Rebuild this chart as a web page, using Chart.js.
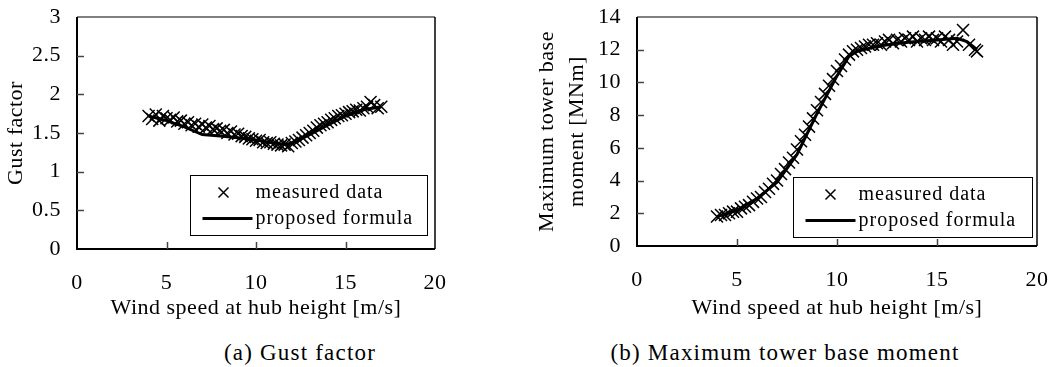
<!DOCTYPE html>
<html>
<head>
<meta charset="utf-8">
<script src="https://cdn.jsdelivr.net/npm/chart.js@4.4.1/dist/chart.umd.min.js"></script>
<style>
    body {
        margin: 0;
        background: #fff;
        width: 1052px;
        height: 367px;
        position: relative;
        overflow: hidden;
        font-family: "Liberation Serif", "Times New Roman", serif;
    }
    canvas { position: absolute; top: 0; }
    #gustChart { left: 0; }
    #momentChart { left: 520px; }
    .caption {
        position: absolute;
        top: 340px;
        font-size: 23px;
        line-height: 26px;
        letter-spacing: 1.2px;
        color: #000;
        white-space: nowrap;
        transform: translateX(-50%);
    }
</style>
</head>
<body>
<canvas id="gustChart" width="520" height="330"></canvas>
<canvas id="momentChart" width="532" height="330"></canvas>
<div class="caption" style="left:300px">(a) Gust factor</div>
<div class="caption" style="left:785px">(b) Maximum tower base moment</div>
<script>
// tick labels
var speedTicks = [0, 5, 10, 15, 20];
var gustTicks = [0, 0.5, 1, 1.5, 2, 2.5, 3];
var momentTicks = [0, 2, 4, 6, 8, 10, 12, 14];

// (a) gust factor, measured
var gustSpeed = [4.0, 4.2, 4.4, 4.6, 4.8, 5.0, 5.2, 5.4, 5.6, 5.8, 6.0, 6.2, 6.4, 6.6, 6.8,
    7.0, 7.2, 7.4, 7.6, 7.8, 8.0, 8.2, 8.4, 8.6, 8.8, 9.0, 9.2, 9.4, 9.6, 9.8,
    10.0, 10.2, 10.4, 10.6, 10.8, 11.0, 11.2, 11.4, 11.6, 11.8, 12.0, 12.2, 12.4, 12.6, 12.8,
    13.0, 13.2, 13.4, 13.6, 13.8, 14.0, 14.2, 14.4, 14.6, 14.8, 15.0, 15.2, 15.4, 15.6, 15.8,
    16.0, 16.2, 16.4, 16.6, 16.8, 17.0];
var gustMeasured = [1.72, 1.68, 1.74, 1.66, 1.72, 1.69, 1.67, 1.70, 1.65, 1.66, 1.62, 1.64, 1.60, 1.62, 1.58,
    1.61, 1.57, 1.59, 1.55, 1.56, 1.53, 1.54, 1.50, 1.52, 1.48, 1.49, 1.46, 1.45, 1.43, 1.42,
    1.40, 1.41, 1.38, 1.37, 1.38, 1.36, 1.35, 1.34, 1.35, 1.33, 1.37, 1.39, 1.41, 1.44, 1.47,
    1.50, 1.53, 1.57, 1.60, 1.62, 1.64, 1.67, 1.69, 1.72, 1.73, 1.75, 1.77, 1.78, 1.80, 1.79,
    1.82, 1.84, 1.90, 1.86, 1.82, 1.84];
// (a) gust factor, proposed formula
var gustFormulaSpeed = [4, 5, 6, 7, 8, 9, 10, 11, 11.6, 12, 13, 14, 15, 16, 17];
var gustFormula = [1.72, 1.66, 1.58, 1.48, 1.46, 1.44, 1.41, 1.37, 1.35, 1.37, 1.48, 1.60, 1.72, 1.80, 1.84];

// (b) maximum tower base moment, measured
var momentSpeed = [4.0, 4.2, 4.4, 4.6, 4.8, 5.0, 5.2, 5.4, 5.6, 5.8, 6.0, 6.2, 6.4, 6.6, 6.8,
    7.0, 7.2, 7.4, 7.6, 7.8, 8.0, 8.2, 8.4, 8.6, 8.8, 9.0, 9.2, 9.4, 9.6, 9.8,
    10.0, 10.2, 10.4, 10.6, 10.8, 11.0, 11.2, 11.4, 11.6, 11.8, 12.0, 12.2, 12.4, 12.6, 12.8,
    13.0, 13.2, 13.4, 13.6, 13.8, 14.0, 14.2, 14.4, 14.6, 14.8, 15.0, 15.2, 15.4, 15.6, 15.8,
    16.0, 16.3, 16.6, 16.9, 17.0];
var momentMeasured = [1.8, 1.9, 1.9, 2.0, 2.1, 2.1, 2.3, 2.4, 2.5, 2.7, 2.9, 3.0, 3.3, 3.5, 3.8,
    4.0, 4.4, 4.7, 5.1, 5.4, 5.9, 6.4, 6.8, 7.3, 7.8, 8.3, 8.8, 9.3, 9.8, 10.2,
    10.7, 11.0, 11.4, 11.7, 11.9, 12.0, 12.1, 12.2, 12.3, 12.3, 12.4, 12.3, 12.5, 12.6, 12.4,
    12.6, 12.5, 12.7, 12.6, 12.8, 12.5, 12.7, 12.6, 12.8, 12.6, 12.7, 12.5, 12.8, 12.6, 12.3,
    12.5, 13.2, 12.3, 12.0, 11.9];
// (b) maximum tower base moment, proposed formula
var momentFormulaSpeed = [4, 5, 6, 7, 8, 9, 10, 10.6, 11, 12, 13, 14, 15, 16, 16.5, 17];
var momentFormula = [1.8, 2.2, 2.9, 3.9, 5.6, 8.1, 10.4, 11.6, 11.9, 12.2, 12.4, 12.5, 12.6, 12.7, 12.5, 12.0];

var legendLabels = ['measured data', 'proposed formula'];

Chart.defaults.font.family = '"Liberation Serif", "Times New Roman", serif';
Chart.defaults.color = '#000';

var tickFont = { size: 22, lineHeight: 1.2 };

function toPoints(xs, ys) {
    return xs.map(function(x, i) { return { x: x, y: ys[i] }; });
}

// box, inward ticks and the legend, drawn like the printed figure
var paperFrame = {
    id: 'paperFrame',
    beforeUpdate: function(chart) { chart.ctx.letterSpacing = '0.5px'; },
    beforeDraw: function(chart) { chart.ctx.letterSpacing = '0.5px'; },
    afterDraw: function(chart, args, opts) {
        var ctx = chart.ctx;
        var a = chart.chartArea;
        var xs = chart.scales.x, ys = chart.scales.y;
        ctx.save();

        ctx.strokeStyle = '#808080';
        ctx.lineWidth = 2;
        ctx.beginPath();
        ctx.moveTo(a.left, a.top);
        ctx.lineTo(a.right, a.top);
        ctx.stroke();

        ctx.strokeStyle = '#000';
        ctx.lineWidth = 1.5;
        ctx.beginPath();
        ctx.moveTo(a.right, a.top);
        ctx.lineTo(a.right, a.bottom);
        ctx.stroke();

        ctx.lineWidth = 2;
        ctx.beginPath();
        ctx.moveTo(a.left, a.top);
        ctx.lineTo(a.left, a.bottom);
        ctx.lineTo(a.right, a.bottom);
        ctx.stroke();

        ctx.lineWidth = 1.5;
        ctx.strokeStyle = '#444';
        xs.ticks.forEach(function(t) {
            var px = Math.round(xs.getPixelForValue(t.value)) + 0.5;
            if (px - a.left < 2 || a.right - px < 2) return;
            ctx.beginPath();
            ctx.moveTo(px, a.bottom);
            ctx.lineTo(px, a.bottom - 7);
            ctx.stroke();
        });
        ys.ticks.forEach(function(t) {
            var py = Math.round(ys.getPixelForValue(t.value)) + 0.5;
            if (py - a.top < 2 || a.bottom - py < 2) return;
            ctx.beginPath();
            ctx.moveTo(a.left, py);
            ctx.lineTo(a.left + 7, py);
            ctx.stroke();
        });

        // legend
        var b = opts.box;
        var bx = Math.round(a.right - b.right - b.width) + 0.5;
        var by = Math.round(a.bottom - b.bottom - b.height) + 0.5;
        ctx.fillStyle = '#fff';
        ctx.fillRect(bx, by, b.width, b.height);
        ctx.strokeStyle = '#000';
        ctx.lineWidth = 1;
        ctx.strokeRect(bx, by, b.width, b.height);

        var r1 = by + 17, r2 = by + 43;
        ctx.lineWidth = 1.5;
        ctx.beginPath();
        ctx.moveTo(bx + b.marker - 5, r1 - 5);
        ctx.lineTo(bx + b.marker + 5, r1 + 5);
        ctx.moveTo(bx + b.marker + 5, r1 - 5);
        ctx.lineTo(bx + b.marker - 5, r1 + 5);
        ctx.stroke();

        ctx.lineWidth = 3;
        ctx.beginPath();
        ctx.moveTo(bx + 12, r2);
        ctx.lineTo(bx + 62, r2);
        ctx.stroke();

        ctx.fillStyle = '#000';
        ctx.font = '20px "Liberation Serif", "Times New Roman", serif';
        ctx.letterSpacing = '1px';
        ctx.textBaseline = 'middle';
        ctx.textAlign = 'left';
        ctx.fillText(chart.data.datasets[0].label, bx + 65, r1);
        ctx.fillText(chart.data.datasets[1].label, bx + 65, r2);

        ctx.restore();
    }
};

function panelOptions(yTicks, yTitle, g) {
    return {
        responsive: false,
        animation: false,
        devicePixelRatio: 1,
        layout: { padding: { top: g.top, right: g.right, left: 0, bottom: 0 } },
        plugins: {
            legend: { display: false },
            tooltip: { enabled: false },
            paperFrame: { box: g.box }
        },
        scales: {
            x: {
                type: 'linear',
                min: speedTicks[0],
                max: speedTicks[speedTicks.length - 1],
                afterBuildTicks: function(s) {
                    s.ticks = speedTicks.map(function(v) { return { value: v }; });
                },
                afterFit: function(s) {
                    s.height = g.xHeight;
                    s.paddingLeft = 0;
                    s.paddingRight = 0;
                },
                grid: { display: false, drawTicks: false },
                border: { display: false },
                ticks: {
                    color: '#000',
                    padding: 21,
                    font: tickFont,
                    maxRotation: 0,
                    autoSkip: false,
                    callback: function(v) { return String(v); }
                },
                title: {
                    display: true,
                    text: 'Wind speed at hub height [m/s]',
                    color: '#000',
                    font: tickFont,
                    padding: { top: 0, bottom: 9 }
                }
            },
            y: {
                type: 'linear',
                min: yTicks[0],
                max: yTicks[yTicks.length - 1],
                afterBuildTicks: function(s) {
                    s.ticks = yTicks.map(function(v) { return { value: v }; });
                },
                afterFit: function(s) {
                    s.width = g.yWidth;
                    s.paddingTop = 0;
                    s.paddingBottom = 0;
                },
                grid: { display: false, drawTicks: false },
                border: { display: false },
                ticks: {
                    color: '#000',
                    padding: 16,
                    font: tickFont,
                    autoSkip: false,
                    callback: function(v) { return String(v); }
                },
                title: {
                    display: true,
                    text: yTitle,
                    color: '#000',
                    font: { size: 22, lineHeight: g.titleLine },
                    padding: { top: g.titlePad, bottom: 0 }
                }
            }
        }
    };
}

function panelData(xm, ym, xf, yf) {
    return {
        datasets: [
            {
                label: legendLabels[0],
                data: toPoints(xm, ym),
                showLine: false,
                pointStyle: 'crossRot',
                pointRadius: 8.5,
                pointHoverRadius: 8.5,
                borderColor: '#000',
                backgroundColor: '#000',
                borderWidth: 1.5
            },
            {
                label: legendLabels[1],
                data: toPoints(xf, yf),
                showLine: true,
                pointRadius: 0,
                borderColor: '#000',
                backgroundColor: '#000',
                borderWidth: 3,
                tension: 0
            }
        ]
    };
}

new Chart(document.getElementById('gustChart'), {
    type: 'scatter',
    data: panelData(gustSpeed, gustMeasured, gustFormulaSpeed, gustFormula),
    options: panelOptions(gustTicks, 'Gust factor', {
        top: 17, right: 85, yWidth: 77, xHeight: 81,
        titleLine: 1.2, titlePad: 3,
        box: { right: 8, bottom: 14, width: 237, height: 60, marker: 33 }
    }),
    plugins: [paperFrame]
});

new Chart(document.getElementById('momentChart'), {
    type: 'scatter',
    data: panelData(momentSpeed, momentMeasured, momentFormulaSpeed, momentFormula),
    options: panelOptions(momentTicks, ['Maximum tower base', 'moment [MNm]'], {
        top: 17, right: 15, yWidth: 117, xHeight: 84,
        titleLine: 1.38, titlePad: 12,
        box: { right: 5, bottom: 9, width: 239, height: 60, marker: 37 }
    }),
    plugins: [paperFrame]
});
</script>
</body>
</html>
